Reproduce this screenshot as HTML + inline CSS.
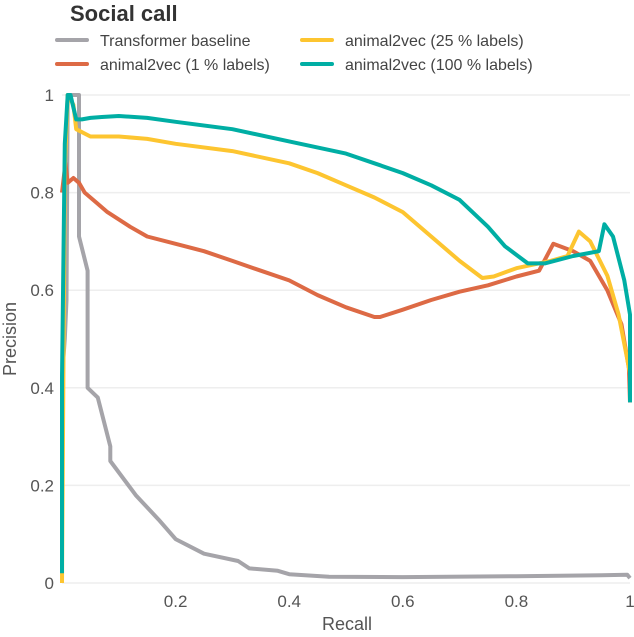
<!DOCTYPE html>
<html><head><meta charset="utf-8"><style>
body{margin:0;background:#fff;font-family:"Liberation Sans",sans-serif}
svg text{font-family:"Liberation Sans",sans-serif}
</style></head><body>
<svg id="c" width="634" height="632" viewBox="0 0 634 632" xmlns="http://www.w3.org/2000/svg">
<defs><clipPath id="clip"><rect x="60" y="91" width="574" height="496"/></clipPath></defs>
<text x="70" y="21" font-size="22" font-weight="bold" fill="#333">Social call</text>
<g id="grid"></g><g id="ticks"></g>
<g id="lines" clip-path="url(#clip)"></g>
<text x="347" y="630" font-size="18" fill="#555" text-anchor="middle">Recall</text>
<text x="16" y="339" font-size="18" fill="#555" text-anchor="middle" transform="rotate(-90 16 339)">Precision</text>
<g id="legend"></g>
</svg>
<script>
const xTicks=[0.2,0.4,0.6,0.8,1];
const yTicks=[0,0.2,0.4,0.6,0.8,1];
const seriesNames=["Transformer baseline","animal2vec (1 % labels)","animal2vec (25 % labels)","animal2vec (100 % labels)"];
const seriesColors=["#a5a4a9","#dd6a45","#fdc530","#00aea4"];
const grayRecall=[0,0.005,0.008,0.01,0.03,0.03,0.045,0.045,0.063,0.085,0.085,0.13,0.17,0.2,0.25,0.31,0.33,0.38,0.4,0.47,0.6,0.8,0.95,0.995,1];
const grayPrec=[0.42,0.5,0.58,1,1,0.71,0.64,0.40,0.38,0.28,0.25,0.18,0.13,0.09,0.06,0.045,0.03,0.025,0.018,0.013,0.012,0.014,0.016,0.017,0.01];
const orangeRecall=[0,0.006,0.01,0.02,0.03,0.04,0.05,0.06,0.08,0.12,0.15,0.2,0.25,0.3,0.35,0.4,0.45,0.5,0.55,0.56,0.6,0.65,0.7,0.75,0.8,0.84,0.865,0.9,0.93,0.96,0.985,0.998,1];
const orangePrec=[0.8,0.86,0.82,0.83,0.82,0.80,0.79,0.78,0.76,0.73,0.71,0.695,0.68,0.66,0.64,0.62,0.59,0.565,0.545,0.545,0.56,0.58,0.597,0.61,0.628,0.64,0.695,0.68,0.66,0.6,0.53,0.44,0.37];
const yellowRecall=[0,0.005,0.01,0.02,0.025,0.05,0.1,0.15,0.2,0.3,0.4,0.45,0.5,0.55,0.6,0.65,0.7,0.74,0.76,0.8,0.86,0.89,0.91,0.93,0.96,0.98,1];
const yellowPrec=[0,0.85,1,0.98,0.93,0.915,0.915,0.91,0.9,0.885,0.86,0.84,0.815,0.79,0.76,0.71,0.66,0.625,0.628,0.645,0.66,0.67,0.72,0.70,0.63,0.55,0.43];
const tealRecall=[0,0,0.005,0.01,0.015,0.025,0.035,0.05,0.07,0.1,0.15,0.2,0.3,0.4,0.5,0.55,0.6,0.65,0.7,0.75,0.78,0.82,0.85,0.9,0.945,0.955,0.97,0.99,1,1];
const tealPrec=[0.02,0.42,0.9,1,1,0.95,0.95,0.953,0.955,0.957,0.953,0.945,0.93,0.905,0.88,0.86,0.84,0.815,0.785,0.73,0.69,0.655,0.655,0.67,0.68,0.735,0.71,0.62,0.55,0.37];
const NS="http://www.w3.org/2000/svg";
const X=v=>62+v*568, Y=v=>583-v*488;
function mk(t,a,p){const e=document.createElementNS(NS,t);for(const k in a)e.setAttribute(k,a[k]);p.appendChild(e);return e;}
const grid=document.getElementById('grid'),ticks=document.getElementById('ticks');
yTicks.forEach(v=>{
 const l=mk('line',{x1:62,x2:630,y1:Y(v),y2:Y(v),stroke:'#eeeeee','stroke-width':1.5},grid);
 
 
 const t=mk('text',{x:54,y:Y(v)+6,'font-size':17,fill:'#555','text-anchor':'end'},ticks);
 t.textContent=v===0?'0':v===1?'1':String(v);
 
 
});
xTicks.forEach(v=>{
 const t=mk('text',{x:X(v),y:607,'font-size':17,fill:'#555','text-anchor':'middle'},ticks);
 t.textContent=v===1?'1':String(v);
 
 
});
const data=[[grayRecall,grayPrec],[orangeRecall,orangePrec],[yellowRecall,yellowPrec],[tealRecall,tealPrec]];
const lines=document.getElementById('lines');
data.forEach((d,i)=>{
 const pts=d[0].map((r,j)=>X(r).toFixed(1)+','+Y(d[1][j]).toFixed(1)).join(' ');
 const p=mk('polyline',{points:pts,fill:'none',stroke:seriesColors[i],'stroke-width':4,'stroke-linejoin':'round'},lines);
 
 
});
const lg=document.getElementById('legend');
const pos=[[57,42],[57,66],[302,42],[302,66]];
seriesNames.forEach((n,i)=>{
 const l=mk('line',{x1:pos[i][0],x2:pos[i][0]+30,y1:pos[i][1]-2,y2:pos[i][1]-2,stroke:seriesColors[i],'stroke-width':4,'stroke-linecap':'round'},lg);
 
 
 const t=mk('text',{x:pos[i][0]+43,y:pos[i][1]+4,'font-size':16,fill:'#444'},lg);
 t.textContent=n;
 
 
});
</script>
</body></html>
